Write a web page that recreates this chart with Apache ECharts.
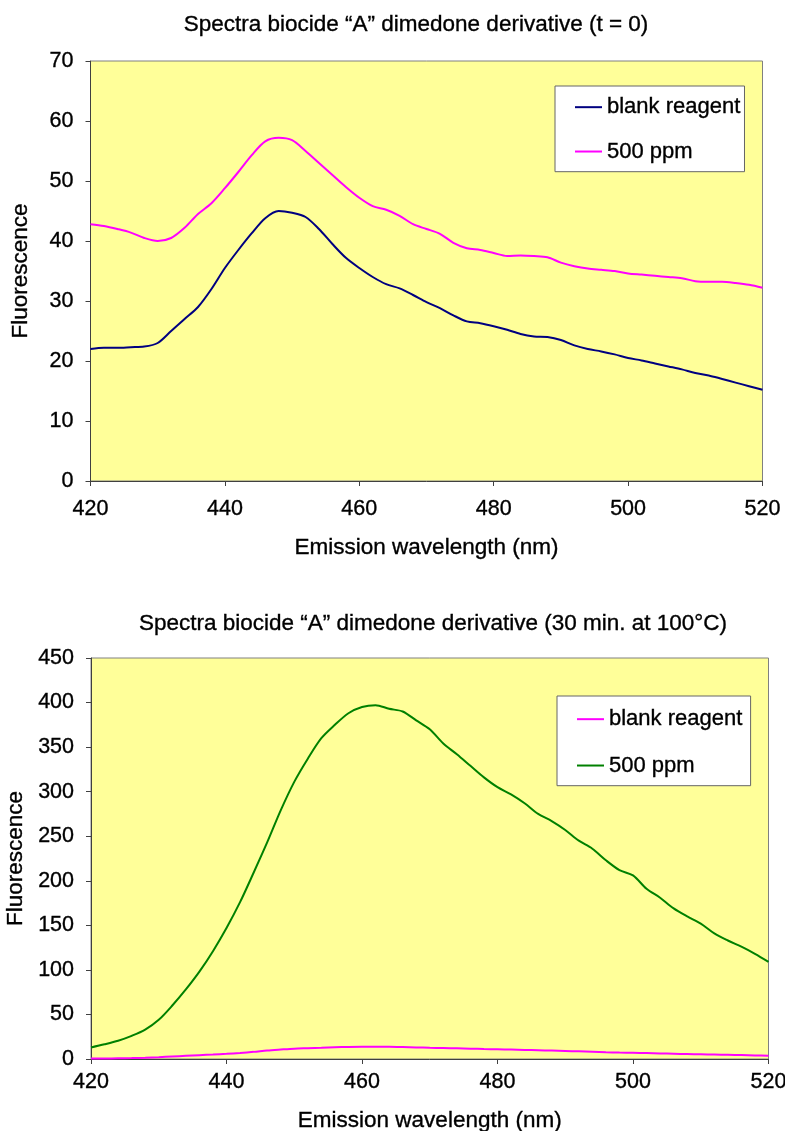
<!DOCTYPE html>
<html>
<head>
<meta charset="utf-8">
<script src="https://cdn.jsdelivr.net/npm/echarts@6/dist/echarts.min.js"></script>
<style>
html,body{margin:0;padding:0;background:#fff;}
#chart{width:785px;height:1131px;}
</style>
</head>
<body>
<div id="chart"></div>
<script>
// Wavelength grid (nm)
var wavelengths = [420,422,424,426,428,430,432,434,436,438,440,442,444,446,448,450,452,454,456,458,460,462,464,466,468,470,472,474,476,478,480,482,484,486,488,490,492,494,496,498,500,502,504,506,508,510,512,514,516,518,520];

// Chart 1 (t = 0)
var topBlank = [22.0,22.2,22.2,22.3,22.4,23.0,25.0,27.0,29.0,32.0,35.5,38.5,41.3,43.8,45.0,44.7,44.0,42.0,39.5,37.2,35.5,34.0,32.8,32.1,31.0,29.8,28.8,27.6,26.6,26.3,25.8,25.2,24.5,24.1,24.0,23.5,22.6,22.0,21.6,21.1,20.5,20.1,19.6,19.1,18.6,18.0,17.6,17.0,16.4,15.8,15.2];
var top500 = [42.8,42.5,42.0,41.4,40.5,40.0,40.5,42.2,44.5,46.3,48.8,51.5,54.3,56.6,57.2,56.8,55.0,53.0,51.0,49.0,47.2,45.8,45.2,44.2,42.8,42.0,41.2,39.7,38.8,38.5,38.0,37.5,37.6,37.5,37.3,36.4,35.8,35.4,35.2,35.0,34.6,34.4,34.2,34.0,33.8,33.3,33.2,33.2,33.0,32.7,32.2];

// Chart 2 (30 min at 100 °C)
var botBlank = [0.5,0.6,0.8,1.0,1.4,2.0,2.8,3.6,4.3,5.0,5.8,6.8,8.0,9.5,10.6,11.6,12.1,12.6,13.2,13.6,13.8,13.7,13.8,13.5,13.0,12.6,12.3,12.0,11.6,11.2,10.9,10.6,10.2,9.8,9.4,9.0,8.6,8.2,7.6,7.2,6.9,6.6,6.2,5.9,5.6,5.3,5.0,4.7,4.4,4.0,3.7];
var bot500 = [13,16.5,20.5,26,33,44,60,78,98,121,147,176,209,243,279,311,337,360,375,388,395,397,393,390,380,370,354,342,329,316,305,297,287,275,267,257,245,236,223,212,206,191,181,169,160,152,141,133,126,118,109];

var seriesNames = ['blank reagent','500 ppm'];
var titles = ['Spectra biocide \u201cA\u201d dimedone derivative (t = 0)','Spectra biocide \u201cA\u201d dimedone derivative (30 min. at 100\u00b0C)'];
var xName = 'Emission wavelength (nm)';
var yName = 'Fluorescence';

function pairs(vals){ return wavelengths.map(function(w,i){ return [w, vals[i]]; }); }

var FONT = 'Liberation Sans, Arial, sans-serif';
var TB = {textBorderColor:'#000', textBorderWidth:0.35};
var axisLineStyle = {color:'#404040', width:1};

function txt(size){ return Object.assign({fontFamily:FONT, fontSize:size, color:'#000', fontWeight:'normal'}, TB); }

function xAxisCfg(gi, gap, margin){
  return {gridIndex:gi, type:'value', min:420, max:520, interval:20,
    name:xName, nameLocation:'middle', nameGap:gap,
    nameTextStyle:txt(22.5),
    axisLine:{show:true, lineStyle:axisLineStyle},
    axisTick:{show:true, length:5, lineStyle:axisLineStyle},
    axisLabel:Object.assign(txt(21.5), {margin:margin}),
    splitLine:{show:false}};
}
function yAxisCfg(gi, max, interval, gap){
  return {gridIndex:gi, type:'value', min:0, max:max, interval:interval,
    name:yName, nameLocation:'middle', nameGap:gap,
    nameTextStyle:txt(22.5),
    axisLine:{show:true, lineStyle:axisLineStyle},
    axisTick:{show:true, length:5, lineStyle:axisLineStyle},
    axisLabel:Object.assign(txt(21.5), {margin:17}),
    splitLine:{show:false}};
}
function lineSeries(name, gi, vals, color){
  return {name:name, type:'line', xAxisIndex:gi, yAxisIndex:gi, data:pairs(vals),
    showSymbol:false, symbol:'none', smooth:0.3,
    lineStyle:{color:color, width:2}, itemStyle:{color:color}};
}
function legendCfg(left, top, pad, gap, names){
  return {orient:'vertical', left:left, top:top, data:names,
    padding:pad, itemGap:gap, itemWidth:27, itemHeight:2, icon:'rect',
    backgroundColor:'#fff', borderColor:'#666', borderWidth:1,
    textStyle:txt(22)};
}

var chart = echarts.init(document.getElementById('chart'), null, {renderer:'canvas'});
chart.setOption({
  backgroundColor:'#fff',
  animation:false,
  title:[
    {text:titles[0], left:411, top:8, textAlign:'center', textStyle:txt(22.5)},
    {text:titles[1], left:428, top:607, textAlign:'center', textStyle:txt(22.5)}
  ],
  grid:[
    {left:90.5, right:22.5, top:61, height:420, show:true, backgroundColor:'#FFFF99', borderColor:'#808080', borderWidth:1, containLabel:false, outerBoundsMode:'none'},
    {left:91, right:16.5, top:658, height:401, show:true, backgroundColor:'#FFFF99', borderColor:'#808080', borderWidth:1, containLabel:false, outerBoundsMode:'none'}
  ],
  xAxis:[xAxisCfg(0, 55, 17), xAxisCfg(1, 50, 12)],
  yAxis:[yAxisCfg(0, 70, 10, 58), yAxisCfg(1, 450, 50, 61)],
  legend:[
    legendCfg(555, 86, [10, 4, 9, 20], 22, [seriesNames[0], seriesNames[1]]),
    legendCfg(557, 696, [12, 2, 9, 20], 24, [seriesNames[0] + ' ', seriesNames[1] + ' '])
  ],
  series:[
    lineSeries(seriesNames[0], 0, topBlank, '#000080'),
    lineSeries(seriesNames[1], 0, top500, '#FF00FF'),
    lineSeries(seriesNames[0] + ' ', 1, botBlank, '#FF00FF'),
    lineSeries(seriesNames[1] + ' ', 1, bot500, '#008000')
  ]
});
</script>
</body>
</html>
